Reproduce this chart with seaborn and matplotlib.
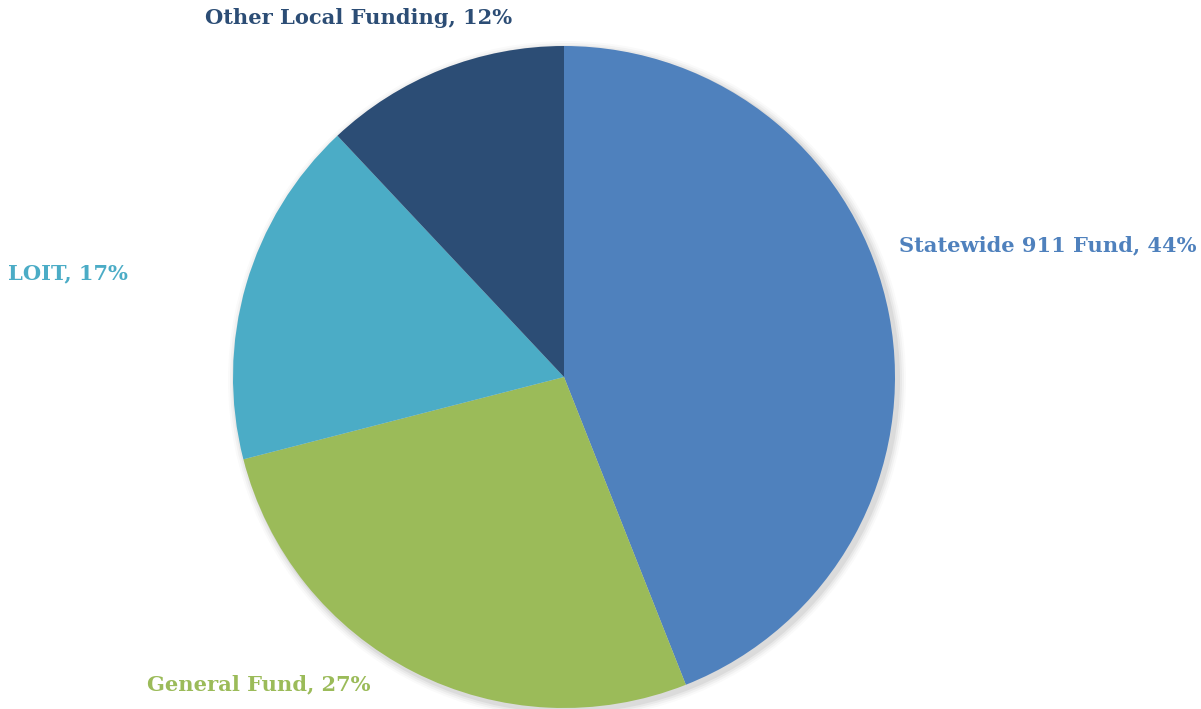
import matplotlib
matplotlib.use("Agg")
import matplotlib.pyplot as plt
import seaborn as sns
from matplotlib.patches import Circle

# Data
labels = ["Statewide 911 Fund", "General Fund", "LOIT", "Other Local Funding"]
shares = [44, 27, 17, 12]
colors = ["#4F81BD", "#9BBB59", "#4BACC6", "#2C4D75"]

sns.set_style("white")
plt.rcParams['font.family'] = ['DejaVu Serif']

W, H = 1201, 709
fig = plt.figure(figsize=(W / 100, H / 100), dpi=100)
ax = fig.add_axes([0, 0, 1, 1])

# pie centre / radius in pixel units (y measured from the top)
cx, cy, r = 564, 377, 331

# soft shadow
for i, a in enumerate([0.05, 0.04, 0.03, 0.02]):
    ax.add_patch(Circle((cx + 3, H - cy - 3), r + 2 + i * 2, color="black", alpha=a, lw=0, zorder=0))

ax.pie(shares, colors=colors, startangle=90, counterclock=False,
       center=(cx, H - cy), radius=r, frame=True,
       wedgeprops=dict(linewidth=0))
ax.set_xlim(0, W)
ax.set_ylim(0, H)
ax.set_aspect('equal')
ax.axis('off')

# Labels (left edge x, centre y from top)
label_pos = [(899, 245), (147, 684), (8, 273), (205, 18)]
for name, val, col, (x, y) in zip(labels, shares, colors, label_pos):
    ax.text(x, H - y, f"{name}, {val}%", color=col, fontsize=15.1, fontweight='bold',
            ha='left', va='center')

fig.savefig("out.png", dpi=100)
